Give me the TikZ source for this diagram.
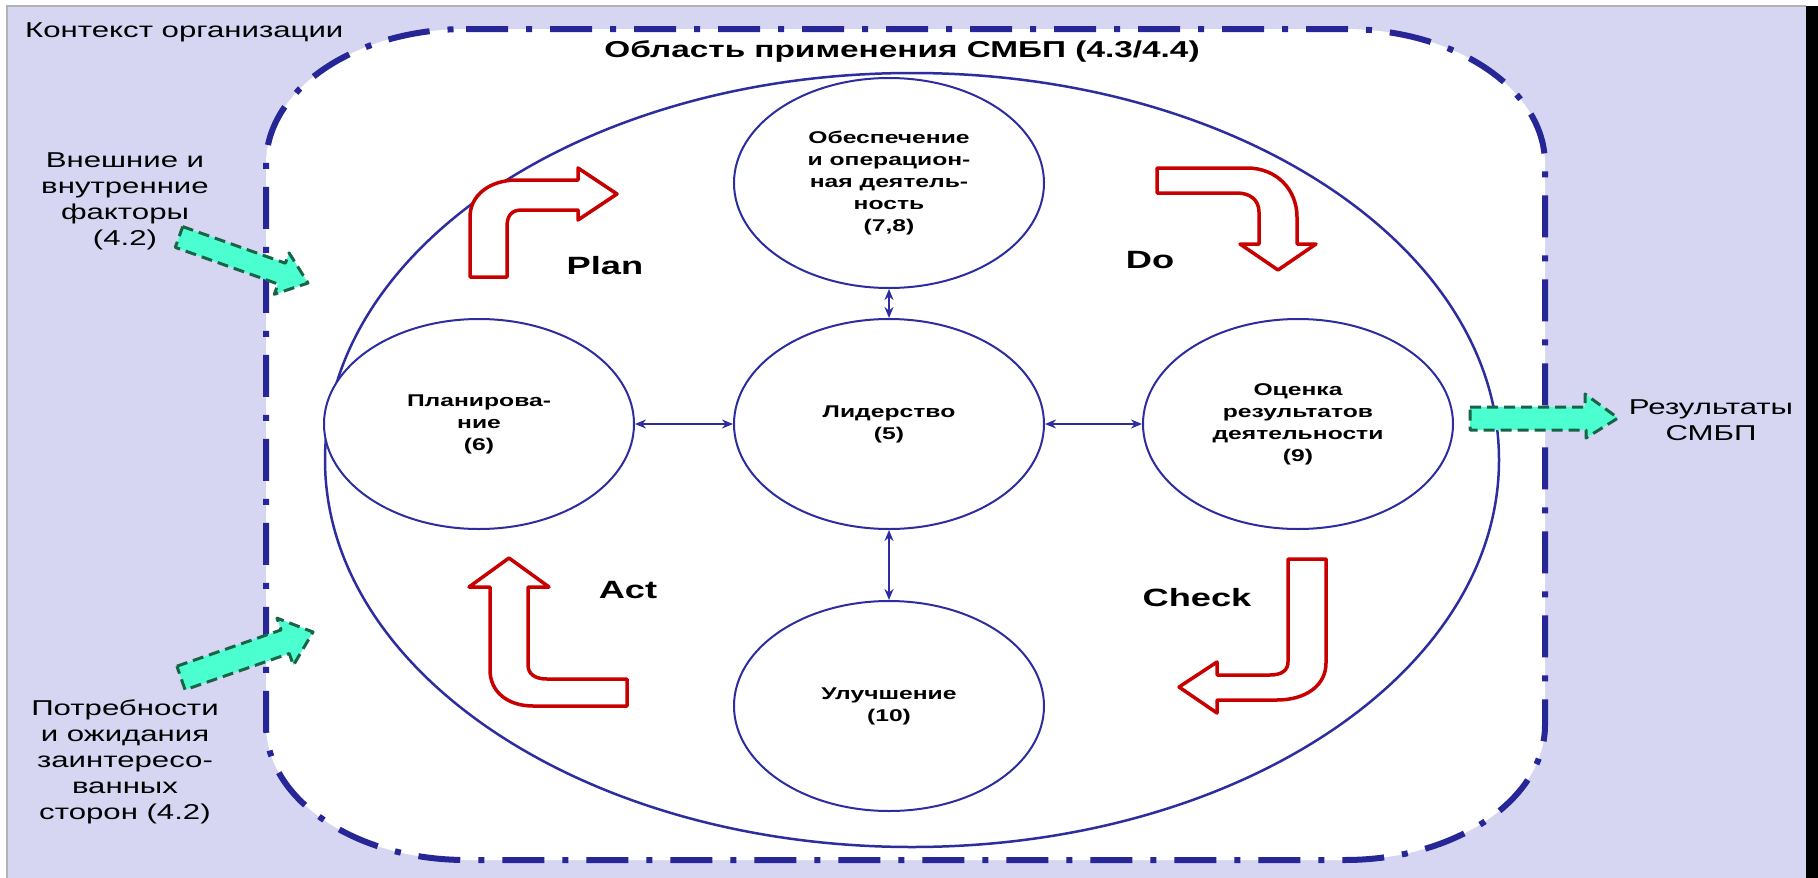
\documentclass[tikz,border=0pt]{standalone}
\usepackage{fontspec}
\setmainfont{Liberation Sans}[FakeStretch=1.45]
\usetikzlibrary{arrows.meta,shapes.geometric}
\definecolor{lav}{RGB}{214,214,243}
\definecolor{dblue}{RGB}{38,38,150}
\definecolor{cblue}{RGB}{45,45,160}
\definecolor{pred}{RGB}{200,0,0}
\definecolor{gfill}{RGB}{75,255,208}
\definecolor{gline}{RGB}{25,100,70}
\begin{document}
\begin{tikzpicture}[x=1pt,y=-1pt,
  circ/.style={ellipse, draw=cblue, line width=2pt, fill=white, minimum width=310pt, minimum height=210pt, inner sep=0pt, align=center, font=\bfseries\fontsize{17}{22}\selectfont},
  lbl/.style={align=center, font=\fontsize{21.5}{26}\selectfont, inner sep=0pt},
  pdca/.style={font=\bfseries\fontsize{25}{30}\selectfont, inner sep=0pt},
  link/.style={cblue, line width=1.8pt, {Stealth[length=11pt,width=9pt]}-{Stealth[length=11pt,width=9pt]}},
  uarrow/.style={draw=pred, line width=3.5pt, fill=white, line join=round},
  garrow/.style={draw=gline, fill=gfill, line width=3pt, dash pattern=on 11pt off 6pt, line join=round},
  scopeline/.style={draw=dblue, line width=6pt, dash pattern=on 42pt off 18pt on 6pt off 18pt},
]
\useasboundingbox (0,0) rectangle (1818,878);
\fill[white] (0,0) rectangle (1818,878);
\fill[lav] (7,6) rectangle (1806,878);
\draw[gray!60, line width=2pt] (7,878) -- (7,6) -- (1806,6);
\fill[black] (1806,6) rectangle (1818,878);

% scope box
\draw[scopeline, fill=white] (466,29) -- (1345,29)
  arc[start angle=270, end angle=360, x radius=200, y radius=135] -- (1545,725)
  arc[start angle=0, end angle=90, x radius=200, y radius=135] -- (466,860)
  arc[start angle=90, end angle=180, x radius=200, y radius=135] -- (266,164)
  arc[start angle=180, end angle=270, x radius=200, y radius=135] -- cycle;

\node[font=\bfseries\fontsize{23}{28}\selectfont, inner sep=0pt] (title) at (902,51) {Область применения СМБП (4.3/4.4)};

% big ellipse
\draw[cblue, line width=2.5pt] (912,460) ellipse [x radius=587, y radius=387];

% circles
\node[circ] (T) at (889,183) {Обеспечение\\и операцион-\\ная деятель-\\ность\\(7,8)};
\node[circ] (C) at (889,424) {Лидерство\\(5)};
\node[circ] (L) at (479,424) {Планирова-\\ние\\(6)};
\node[circ] (R) at (1298,424) {Оценка\\результатов\\деятельности\\(9)};
\node[circ] (B) at (889,706) {Улучшение\\(10)};

\draw[link] (L) -- (C);
\draw[link] (C) -- (R);
\draw[link] (T) -- (C);
\draw[link] (C) -- (B);

% PDCA labels
\node[pdca] (plan) at (605,266) {Plan};
\node[pdca] (do) at (1150,260) {Do};
\node[pdca] (act) at (628,590) {Act};
\node[pdca] (check) at (1197,598) {Check};

% red U-turn arrows
\path[uarrow] (470,277) -- (470,217) .. controls (470,195) and (490,180) .. (517,180)
  -- (578,180) -- (578,168) -- (617,194) -- (578,220) -- (578,210) -- (522,210)
  .. controls (511,210) and (507,216) .. (507,227) -- (507,277) -- cycle;
\path[uarrow] (1157,168) -- (1247,168) .. controls (1277,168) and (1297,190) .. (1297,217)
  -- (1297,244) -- (1316,244) -- (1278,270) -- (1240,244) -- (1259,244) -- (1259,212)
  .. controls (1259,200) and (1250,193) .. (1237,193) -- (1157,193) -- cycle;
\path[uarrow] (509,558) -- (549,587) -- (528,587) -- (528,665)
  .. controls (528,674) and (535,679) .. (547,679) -- (627,679) -- (627,706) -- (533,706)
  .. controls (508,706) and (490,692) .. (490,670) -- (490,587) -- (469,587) -- cycle;
\path[uarrow] (1288,559) -- (1326,559) -- (1326,663)
  .. controls (1326,686) and (1305,700) .. (1277,700) -- (1217,700) -- (1217,713)
  -- (1179,687) -- (1217,662) -- (1217,675) -- (1270,675)
  .. controls (1282,675) and (1288,670) .. (1288,662) -- cycle;

% green block arrows
\path[garrow] (182.7,226.6) -- (285.4,263.2) -- (289.1,252.9) -- (308,283) -- (274.3,294.3) -- (278,284) -- (175.3,247.4) -- cycle;
\path[garrow] (176.9,666.2) -- (281.1,629.9) -- (277,618.1) -- (313,632) -- (293.4,665.3) -- (289.3,653.5) -- (185.1,689.8) -- cycle;
\path[garrow] (1470,407) -- (1585,407) -- (1585,394) -- (1618,418) -- (1586,438) -- (1586,430) -- (1470,430) -- cycle;

% outside labels
\node[lbl, anchor=west] (ctx) at (25,32) {Контекст организации};
\node[lbl] (ext) at (125,201) {Внешние и\\внутренние\\факторы\\(4.2)};
\node[lbl] (need) at (125,762) {Потребности\\и ожидания\\заинтересо-\\ванных\\сторон (4.2)};
\node[lbl] (res) at (1711,420) {Результаты\\СМБП};
\end{tikzpicture}
\end{document}
